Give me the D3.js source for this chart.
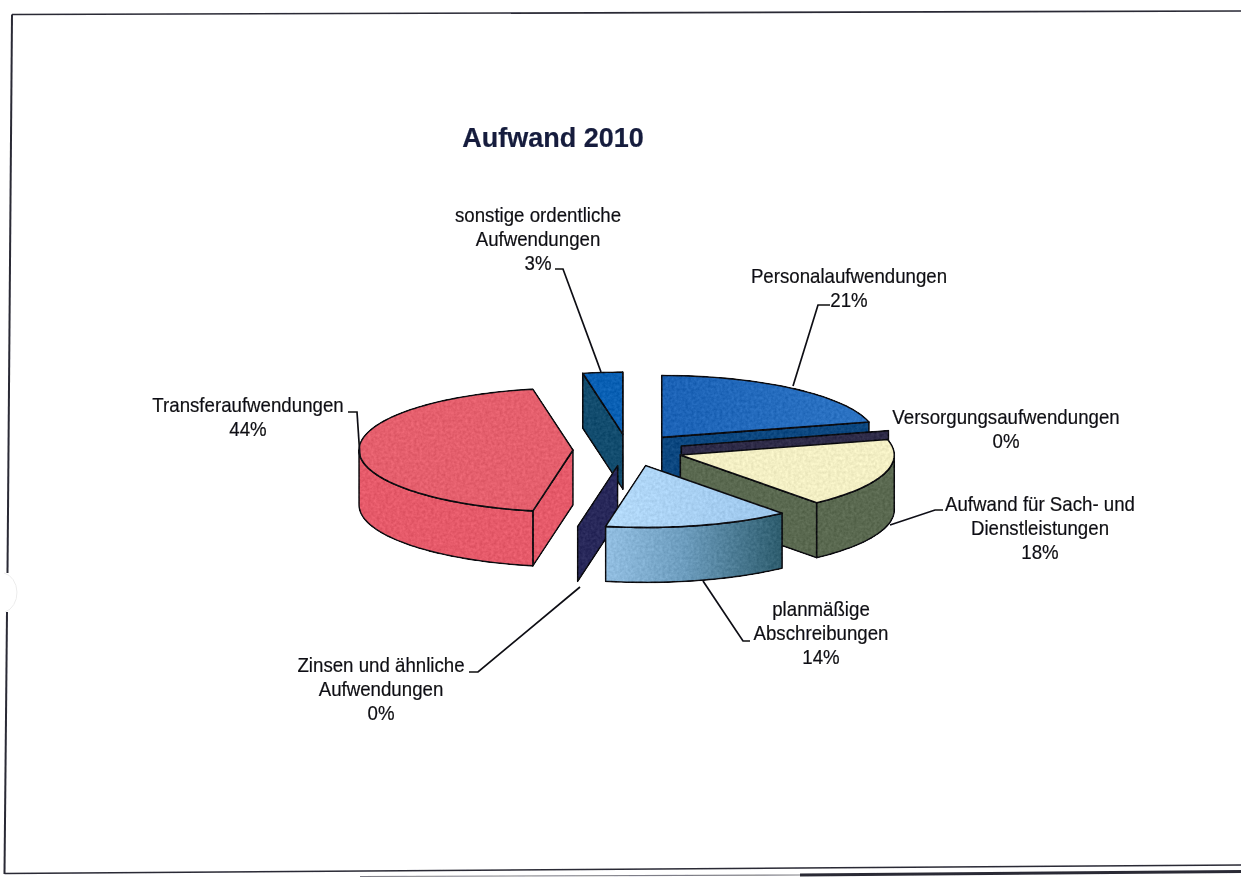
<!DOCTYPE html>
<html>
<head>
<meta charset="utf-8">
<script src="https://cdnjs.cloudflare.com/ajax/libs/d3/7.8.5/d3.min.js"></script>
<style>
body { margin: 0; background: #fff; }
text { font-family: "Liberation Sans", Arial, sans-serif; fill: #111114; stroke: #111114; stroke-width: 0.2px; }
</style>
</head>
<body>
<svg id="chart" width="1241" height="877"></svg>
<script>
const values = [21, 0, 18, 14, 0, 44, 3];

const topColors = ['#1f66b8', '#2b2a4a', '#f3efc4', '#a8d0f6', '#2a2a5c', '#e55f6d', '#0a60b4'];
const wallColors = ['#0c4780', '#2e2b48', '#5a6950', '#6d9dc0', '#28285a', '#e65a6a', '#124c6e'];

// one block of text per slice, same order as values
const labelLines = [
	['Personalaufwendungen', '21%'],
	['Versorgungsaufwendungen', '0%'],
	['Aufwand für Sach- und', 'Dienstleistungen', '18%'],
	['planmäßige', 'Abschreibungen', '14%'],
	['Zinsen und ähnliche', 'Aufwendungen', '0%'],
	['Transferaufwendungen', '44%'],
	['sonstige ordentliche', 'Aufwendungen', '3%']
];

const W = 1241, H = 877;
const depth = 55, explode = 0.257;

const svg = d3.select('#chart');

// ellipse of the tilted pie, centre at 628,450
const x = d3.scaleLinear().domain([-1, 1]).range([628 - 214, 628 + 214]);
const y = d3.scaleLinear().domain([-1, 1]).range([450 - 62, 450 + 62]);

const pie = d3.pie().sort(null).value(d => d).startAngle(0).endAngle(2 * Math.PI);
const arcs = pie(values);

const line = d3.line().x(d => d[0]).y(d => d[1]);

// point on a slice: radius 1 is the rim, radius 0 the tip
function point(s, a, r, down = 0) {
	const mid = (s.startAngle + s.endAngle) / 2;
	const ex = explode * Math.sin(mid) + r * Math.sin(a);
	const ey = -explode * Math.cos(mid) - r * Math.cos(a);
	return [x(ex) + (s.index === 3 ? 4 : 0), y(ey) + down];
}

function arcPoints(s, a0, a1, down = 0) {
	const n = Math.max(2, Math.ceil((a1 - a0) * 40));
	return d3.range(n + 1).map(i => point(s, a0 + (a1 - a0) * i / n, 1, down));
}

// painter's order, back to front
const order = [6, 0, 1, 2, 5, 4, 3];

const defs = svg.append('defs');
const gradient = (id, stops) => {
	const g = defs.append('linearGradient').attr('id', id);
	stops.forEach(([o, c]) => g.append('stop').attr('offset', o).attr('stop-color', c));
};
gradient('lightWall', [['0%', '#93bfe2'], ['45%', '#6c9cbd'], ['100%', '#2d5c6d']]);
gradient('lightTop', [['0%', '#b4daf9'], ['100%', '#9cc6ec']]);
gradient('blueTop', [['0%', '#1b62b6'], ['100%', '#2d74c4']]);

// scanner look: faint grain added to the fills, soft edges
const grain = defs.append('filter').attr('id', 'grain')
	.attr('color-interpolation-filters', 'sRGB')
	.attr('x', '-5%').attr('y', '-5%').attr('width', '110%').attr('height', '110%');
grain.append('feTurbulence').attr('type', 'fractalNoise').attr('baseFrequency', 0.35).attr('numOctaves', 2).attr('seed', 4).attr('result', 'n');
grain.append('feColorMatrix').attr('in', 'n').attr('type', 'matrix')
	.attr('values', '1 0 0 0 0  1 0 0 0 0  1 0 0 0 0  0 0 0 0 1').attr('result', 'gray');
grain.append('feComposite').attr('in', 'SourceGraphic').attr('in2', 'gray').attr('operator', 'arithmetic')
	.attr('k1', 0).attr('k2', 1).attr('k3', 0.14).attr('k4', -0.07).attr('result', 'mixed');
grain.append('feComposite').attr('in', 'mixed').attr('in2', 'SourceAlpha').attr('operator', 'in').attr('result', 'clip');
grain.append('feGaussianBlur').attr('in', 'clip').attr('stdDeviation', 0.45);

const soft = defs.append('filter').attr('id', 'soft');
soft.append('feGaussianBlur').attr('stdDeviation', 0.3);

const sliceG = svg.append('g')
	.attr('filter', 'url(#grain)')
	.attr('stroke', '#0c0c10')
	.attr('stroke-width', 1.6)
	.attr('stroke-linejoin', 'round');

order.forEach(i => {
	const s = arcs[i];
	const g = sliceG.append('g').attr('class', 'slice');
	const a0 = s.startAngle, a1 = s.endAngle;
	const wallFill = i === 3 ? 'url(#lightWall)' : wallColors[i];
	const topFill = i === 0 ? 'url(#blueTop)' : i === 3 ? 'url(#lightTop)' : topColors[i];

	function wall(a) {
		g.append('path')
			.attr('fill', wallColors[i])
			.attr('d', line([point(s, a, 0), point(s, a, 1), point(s, a, 1, depth), point(s, a, 0, depth)]) + 'Z');
	}
	if (Math.sin(a0) < 0) wall(a0);
	if (Math.sin(a1) > 0) wall(a1);

	// outer wall, only the part in front
	const f0 = Math.max(a0, Math.PI / 2), f1 = Math.min(a1, 3 * Math.PI / 2);
	if (f1 > f0) {
		g.append('path')
			.attr('fill', wallFill)
			.attr('d', line([...arcPoints(s, f0, f1), ...arcPoints(s, f0, f1, depth).reverse()]) + 'Z');
	}

	if (a1 > a0) {
		g.append('path')
			.attr('fill', topFill)
			.attr('d', line([point(s, a0, 0), ...arcPoints(s, a0, a1)]) + 'Z');
	}
});

const labelX = [849, 1006, 1040, 821, 381, 248, 538];
const labelY = [283, 424, 511, 616, 672, 412, 222];
const lineGap = 24;

const textG = svg.append('g').attr('filter', 'url(#soft)');

labelLines.forEach((rows, i) => {
	const t = textG.append('text')
		.attr('text-anchor', 'middle')
		.attr('font-size', 20)
		.attr('transform', `translate(${labelX[i]},${labelY[i]}) scale(0.934,1)`);
	rows.forEach((r, j) => {
		t.append('tspan').attr('x', 0).attr('y', j * lineGap).text(r);
	});
});

// leader lines
const leaders = [
	[[793, 386], [818, 305], [830, 305]],
	[[890, 525], [935, 510], [943, 510]],
	[[703, 581], [743, 641], [750, 641]],
	[[580, 587], [478, 672], [469, 672]],
	[[360, 457], [357, 412], [348, 412]],
	[[601, 372], [563, 269], [555, 269]]
];
const leaderG = textG.append('g').attr('fill', 'none').attr('stroke', '#111114').attr('stroke-width', 1.7);
leaders.forEach(l => leaderG.append('path').attr('d', line(l)));

textG.append('text')
	.attr('x', 553).attr('y', 147)
	.attr('text-anchor', 'middle')
	.attr('font-size', 27)
	.attr('font-weight', 'bold')
	.style('fill', '#141c3c')
	.style('stroke', '#141c3c')
	.text('Aufwand 2010');

// scanned frame, broken at the punch hole on the left
const frame = svg.append('g').attr('fill', 'none').attr('stroke', '#2a2a35').attr('filter', 'url(#soft)');
frame.append('path').attr('stroke-width', 1.6).attr('d', line([[12, 14.5], [W, 11]]));
frame.append('path').attr('stroke-width', 2).attr('d', line([[12, 14.5], [7.5, 573]]));
frame.append('path').attr('stroke-width', 2).attr('d', line([[7, 612], [4.5, 874]]));
frame.append('path').attr('stroke-width', 1.6).attr('d', line([[4.5, 873.5], [W, 865]]));
frame.append('path').attr('stroke-width', 1.2).attr('opacity', 0.6).attr('d', line([[360, 876.5], [800, 875]]));
frame.append('path').attr('stroke-width', 3).attr('d', line([[800, 875], [W, 871.5]]));
svg.append('path')
	.attr('fill', 'none').attr('stroke', '#ececec').attr('stroke-width', 1)
	.attr('d', 'M4,573 A16,20 0 0 1 5,612');
</script>
</body>
</html>
